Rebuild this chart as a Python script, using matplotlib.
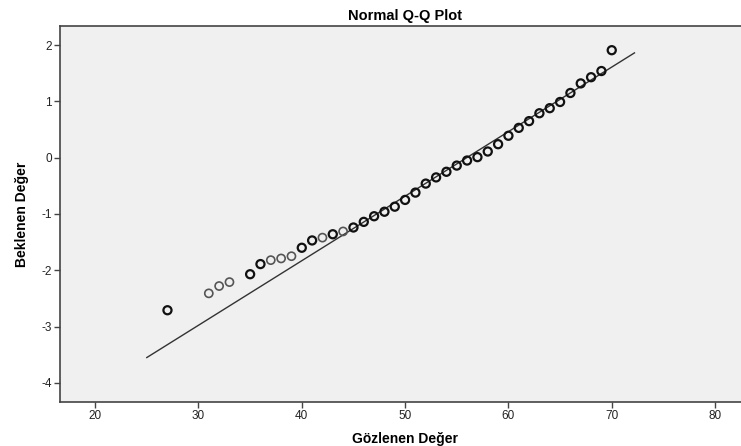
import numpy as np
import matplotlib.pyplot as plt

plt.rcParams['font.family'] = ['Liberation Sans', 'DejaVu Sans']
plt.rcParams['axes.unicode_minus'] = False

# observed values and their expected normal quantiles
observed = [27, 31, 32, 33, 35, 36, 37, 38, 39, 40, 41, 42, 43, 44, 45,
            46, 47, 48, 49, 50, 51, 52, 53, 54, 55, 56, 57, 58, 59, 60,
            61, 62, 63, 64, 65, 66, 67, 68, 69, 70]
expected = [-2.71, -2.41, -2.28, -2.21, -2.07, -1.89, -1.82, -1.79, -1.75, -1.60,
            -1.47, -1.42, -1.36, -1.31, -1.24, -1.14, -1.04, -0.96, -0.87, -0.75,
            -0.62, -0.46, -0.35, -0.25, -0.14, -0.05, 0.01, 0.11, 0.24, 0.39,
            0.53, 0.65, 0.79, 0.88, 0.99, 1.15, 1.32, 1.43, 1.54, 1.91]
# frequency of each observed value (repeated points look darker)
counts = [2, 1, 1, 1, 2, 2, 1, 1, 1, 2, 2, 1, 2, 1, 2,
          2, 2, 2, 2, 2, 2, 2, 2, 2, 2, 2, 2, 2, 2, 2,
          2, 2, 2, 2, 2, 2, 2, 2, 2, 2]

# reference line (fitted normal)
line_x = [25, 72.2]
mean, sd = 55.96, 8.72

fig = plt.figure(figsize=(7.41, 4.46), dpi=100)
ax = fig.add_axes([0.081, 0.0987, 0.93, 0.843])
ax.set_facecolor('#f0f0f0')

line_y = [(v - mean) / sd for v in line_x]
ax.plot(line_x, line_y, color='#333333', lw=1.0, zorder=2)

obs = np.array(observed)
exp = np.array(expected)
cnt = np.array(counts)
single = cnt == 1
ax.scatter(obs[single], exp[single], s=34, facecolors='none',
           edgecolors='#555555', linewidths=1.2, zorder=3)
ax.scatter(obs[~single], exp[~single], s=34, facecolors='none',
           edgecolors='#111111', linewidths=1.6, zorder=3)

ax.set_xlim(16.6, 83.3)
ax.set_ylim(-4.34, 2.34)
ax.set_xticks([20, 30, 40, 50, 60, 70, 80])
ax.set_yticks([-4, -3, -2, -1, 0, 1, 2])

for side in ['left', 'bottom', 'top']:
    ax.spines[side].set_color('#444444')
    ax.spines[side].set_linewidth(1.2)
ax.spines['right'].set_visible(False)

ax.tick_params(axis='both', direction='out', length=4, width=1,
               color='#444444', labelsize=8.5, labelcolor='#222222', pad=2)

ax.set_title('Normal Q-Q Plot', fontsize=10.5, fontweight='bold', pad=4)
ax.set_xlabel('Gözlenen Değer', fontsize=10, fontweight='bold', labelpad=7)
ax.set_ylabel('Beklenen Değer', fontsize=10, fontweight='bold', labelpad=9)

fig.savefig('out.png', dpi=100)
